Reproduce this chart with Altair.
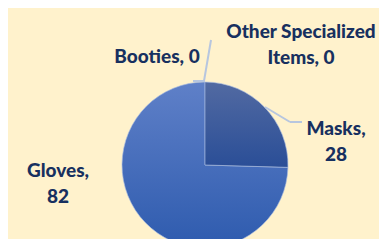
import altair as alt
import pandas as pd

categories = ["Masks", "Gloves", "Booties", "Other Specialized Items"]
values = [28, 82, 0, 0]
label_texts = ["Masks,\n28", "Gloves,\n82", "Booties, 0", "Other Specialized\nItems, 0"]

df = pd.DataFrame({"category": categories, "value": values, "order": list(range(len(categories)))})

BG = "#FFF2CC"
TXT = "#17305F"
LEAD = "#B7C6DF"
CX, CY, R = 197, 157, 83
FONT = "Lato"
FS = 19

base = (
    alt.Chart(df)
    .transform_joinaggregate(total="sum(value)")
    .transform_window(cum="sum(value)", sort=[alt.SortField("order")])
    .transform_calculate(
        start="(datum.cum - datum.value) / datum.total * 2 * PI",
        end="datum.cum / datum.total * 2 * PI",
    )
)

def slice_layer(cat, top, bottom):
    grad = alt.LinearGradient(
        gradient="linear", x1=0, y1=0, x2=0, y2=1,
        stops=[alt.GradientStop(color=top, offset=0), alt.GradientStop(color=bottom, offset=1)],
    )
    return base.transform_filter(alt.datum.category == cat).mark_arc(
        radius=R, fill=grad, stroke="#A9BBE0", strokeWidth=0.8, strokeOpacity=0.8
    ).encode(
        theta=alt.Theta("start:Q", scale=None),
        theta2="end:Q",
        x=alt.value(CX),
        y=alt.value(CY),
    )

gloves = slice_layer("Gloves", "#5F80C8", "#2E5BAE")
masks = slice_layer("Masks", "#526AA2", "#2A4E97")

def rule(x1, y1, x2, y2):
    return alt.Chart(df.head(1)).mark_rule(color=LEAD, strokeWidth=2).encode(
        x=alt.value(x1), y=alt.value(y1), x2=alt.value(x2), y2=alt.value(y2)
    )

leaders = [
    rule(185, 73, 197, 73),
    rule(196, 73, 203, 32),
    rule(257, 99, 282, 114),
    rule(282, 114, 294, 114),
]

text_df = pd.DataFrame({"category": categories, "label": label_texts})

def label(cat, x, y):
    return alt.Chart(text_df).transform_filter(alt.datum.category == cat).mark_text(
        font=FONT, fontSize=FS, fontWeight=900, color=TXT, align="center",
        baseline="middle", lineBreak="\n", lineHeight=26,
    ).encode(text="label:N", x=alt.value(x), y=alt.value(y))

labels = [
    label("Other Specialized Items", 293, 24),
    label("Booties", 149, 49),
    label("Masks", 328, 121),
    label("Gloves", 50, 163),
]

chart = alt.layer(gloves, masks, *leaders, *labels).properties(
    width=371, height=231, background=BG, padding=0,
    autosize=alt.AutoSizeParams(type="none"),
).configure_view(stroke=None)

chart.save("out.html", embed_options={"renderer": "svg", "actions": False})
